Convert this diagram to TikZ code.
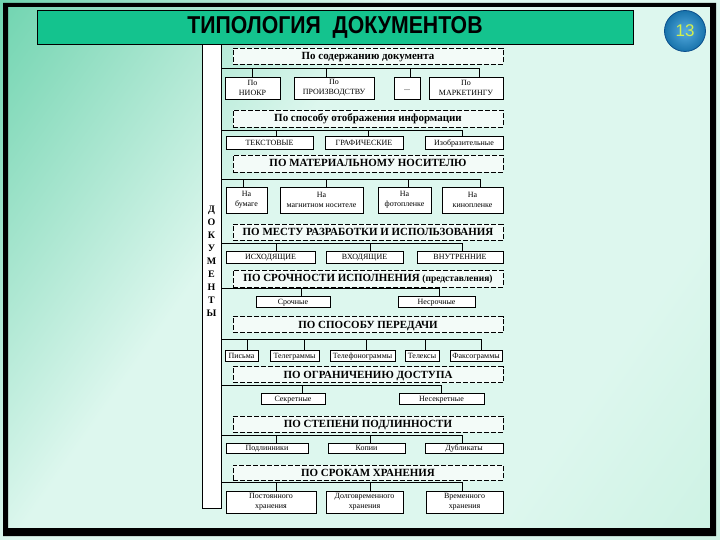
\documentclass[tikz,border=0pt]{standalone}
\usepackage{fontspec}
\setmainfont{Liberation Serif}
\setsansfont{Liberation Sans}
\newfontfamily\titlefont[FakeStretch=0.87]{Liberation Sans}
\usepackage{tikz}
\usetikzlibrary{positioning, calc}
\definecolor{jade}{HTML}{14C38E}
\definecolor{jadeedge}{HTML}{2CC28D}
\definecolor{jademid}{HTML}{8EDDC0}
\definecolor{mintpale}{HTML}{DDF7EE}
\definecolor{mintdeep}{HTML}{BCEDD9}
\definecolor{headfill}{HTML}{F3FBF8}
\definecolor{badgeblue}{HTML}{1E90D6}
\definecolor{badgedark}{HTML}{0B4F8C}
\definecolor{badgetext}{HTML}{D4F04C}
\pgfdeclarehorizontalshading{slidebg}{100bp}{color(0bp)=(jadeedge); color(22bp)=(jademid); color(40bp)=(mintpale); color(70bp)=(mintpale); color(100bp)=(mintdeep)}
\tikzset{
  titlebar/.style={draw=black, line width=0.8pt, fill=jade, font=\titlefont\bfseries\fontsize{24.5}{28}\selectfont, inner sep=0pt},
  badge/.style={circle, draw=badgedark, line width=0.8pt, inner color=badgeblue!75!white, outer color=badgeblue!80!black, text=badgetext, font=\sffamily\fontsize{17}{20}\selectfont, minimum size=41bp, inner sep=0pt},
  docbox/.style={draw=black, line width=0.8pt, fill=white, inner sep=0pt},
  docword/.style={align=center, font=\bfseries\fontsize{10}{13.1}\selectfont, inner sep=0pt},
  head/.style={draw=black, line width=0.9pt, dash pattern=on 5pt off 2pt, fill=headfill, minimum width=270bp, inner sep=0pt, text height=7.6bp, text depth=0.6bp, font=\bfseries\fontsize{11}{13}\selectfont},
  kid/.style={draw=black, line width=0.8pt, fill=white, inner sep=0pt, text height=5.6bp, text depth=0.5bp, font=\fontsize{8}{10}\selectfont},
  kidtwo/.style={draw=black, line width=0.8pt, fill=white, inner sep=0pt, align=center, font=\fontsize{8}{10.5}\selectfont},
  link/.style={draw=black, line width=0.8pt},
}

\begin{document}
\begin{tikzpicture}[x=1bp, y=-1bp]
  \useasboundingbox (0,0) rectangle (720,540);
  % slide background and frame
  \shade[shading=slidebg, shading angle=-35] (0,0) rectangle (720,540);
  \fill[black, even odd rule] (3,3) rectangle (716,536) (8,7) rectangle (710,528);

  % title and page number
  \node[titlebar, minimum width=596bp, minimum height=34bp] (title) at (335,27.5) {ТИПОЛОГИЯ\ \ ДОКУМЕНТОВ};
  \node[badge] (page) at (685,31) {13};

  % vertical "documents" column
  \node[docbox, minimum width=19bp, minimum height=464bp] (docs) at (211.5,276) {};
  \node[docword] (docsword) at (211.5,261) {Д\\О\\К\\У\\М\\Е\\Н\\Т\\Ы};

  % criteria (dashed)
  \node[head, minimum height=16bp] (h1) at (368,56) {По содержанию документа};
  \node[head, minimum height=17bp] (h2) at (368,118.5) {По способу отображения информации};
  \node[head, minimum height=17bp] (h3) at (368,163.5) {ПО МАТЕРИАЛЬНОМУ НОСИТЕЛЮ};
  \node[head, minimum height=16bp] (h4) at (368,232.5) {ПО МЕСТУ РАЗРАБОТКИ И ИСПОЛЬЗОВАНИЯ};
  \node[head, minimum height=17bp] (h5) at (368,278.5) {ПО СРОЧНОСТИ ИСПОЛНЕНИЯ {\fontsize{9.5}{11}\selectfont(представления)}};
  \node[head, minimum height=16bp] (h6) at (368,324.5) {ПО СПОСОБУ ПЕРЕДАЧИ};
  \node[head, minimum height=16bp] (h7) at (368,374.5) {ПО ОГРАНИЧЕНИЮ ДОСТУПА};
  \node[head, minimum height=16bp] (h8) at (368,424) {ПО СТЕПЕНИ ПОДЛИННОСТИ};
  \node[head, minimum height=15bp] (h9) at (368,472.5) {ПО СРОКАМ ХРАНЕНИЯ};

  % by content
  \node[kidtwo, minimum width=55bp, minimum height=22bp] (n1a) at (252.5,88) {По\\НИОКР};
  \node[kidtwo, minimum width=80bp, minimum height=22bp] (n1b) at (334,88) {По\\ПРОИЗВОДСТВУ};
  \node[kid, minimum width=26bp, minimum height=22bp] (n1c) at (407,88) {...};
  \node[kidtwo, minimum width=74bp, minimum height=22bp] (n1d) at (466,88) {По\\МАРКЕТИНГУ};
  % by way of display
  \node[kid, minimum width=87bp, minimum height=13bp] (n2a) at (269.5,142.5) {ТЕКСТОВЫЕ};
  \node[kid, minimum width=78bp, minimum height=13bp] (n2b) at (364,142.5) {ГРАФИЧЕСКИЕ};
  \node[kid, minimum width=78bp, minimum height=13bp] (n2c) at (464,142.5) {Изобразительные};
  % by carrier
  \node[kidtwo, minimum width=41bp, minimum height=26bp] (n3a) at (246.5,200) {На\\бумаге};
  \node[kidtwo, minimum width=83bp, minimum height=26bp] (n3b) at (321.5,200) {На\\магнитном носителе};
  \node[kidtwo, minimum width=53bp, minimum height=26bp] (n3c) at (404.5,200) {На\\фотопленке};
  \node[kidtwo, minimum width=61bp, minimum height=26bp] (n3d) at (472.5,200) {На\\кинопленке};
  % by place
  \node[kid, minimum width=89bp, minimum height=12bp] (n4a) at (270.5,257) {ИСХОДЯЩИЕ};
  \node[kid, minimum width=77bp, minimum height=12bp] (n4b) at (364.5,257) {ВХОДЯЩИЕ};
  \node[kid, minimum width=86bp, minimum height=12bp] (n4c) at (460,257) {ВНУТРЕННИЕ};
  % by urgency
  \node[kid, minimum width=74bp, minimum height=11bp] (n5a) at (293,301.5) {Срочные};
  \node[kid, minimum width=77bp, minimum height=11bp] (n5b) at (436.5,301.5) {Несрочные};
  % by transfer
  \node[kid, minimum width=33bp, minimum height=11bp] (n6a) at (241.5,355.5) {Письма};
  \node[kid, minimum width=49bp, minimum height=11bp] (n6b) at (294.5,355.5) {Телеграммы};
  \node[kid, minimum width=65bp, minimum height=11bp] (n6c) at (362.5,355.5) {Телефонограммы};
  \node[kid, minimum width=34bp, minimum height=11bp] (n6d) at (422,355.5) {Телексы};
  \node[kid, minimum width=52bp, minimum height=11bp] (n6e) at (476,355.5) {Факсограммы};
  % by access
  \node[kid, minimum width=64bp, minimum height=11bp] (n7a) at (293,398.5) {Секретные};
  \node[kid, minimum width=85bp, minimum height=11bp] (n7b) at (441.5,398.5) {Несекретные};
  % by authenticity
  \node[kid, minimum width=82bp, minimum height=10bp] (n8a) at (267,448) {Подлинники};
  \node[kid, minimum width=77bp, minimum height=10bp] (n8b) at (366.5,448) {Копии};
  \node[kid, minimum width=78bp, minimum height=10bp] (n8c) at (464,448) {Дубликаты};
  % by storage term
  \node[kidtwo, minimum width=90bp, minimum height=22bp] (n9a) at (271,502) {Постоянного\\хранения};
  \node[kidtwo, minimum width=77bp, minimum height=22bp] (n9b) at (364.5,502) {Долговременного\\хранения};
  \node[kidtwo, minimum width=77bp, minimum height=22bp] (n9c) at (464.5,502) {Временного\\хранения};

  % branches from the column
  \coordinate (b1) at (docs.east |- 0,68);
  \coordinate (b2) at (docs.east |- 0,130);
  \coordinate (b3) at (docs.east |- 0,179);
  \coordinate (b4) at (docs.east |- 0,243);
  \coordinate (b5) at (docs.east |- 0,288);
  \coordinate (b6) at (docs.east |- 0,339);
  \coordinate (b7) at (docs.east |- 0,385);
  \coordinate (b8) at (docs.east |- 0,435);
  \coordinate (b9) at (docs.east |- 0,482);

  \draw[link] (b1) -| (n1a.north);
  \draw[link] (b1) -| ([xshift=-8bp]n1b.north);
  \draw[link] (b1) -| ([xshift=3bp]n1c.north);
  \draw[link] (b1) -| ([xshift=13bp]n1d.north);

  \draw[link] (b2) -| ([xshift=6.5bp]n2a.north);
  \draw[link] (b2) -| ([xshift=4bp]n2b.north);
  \draw[link] (b2) -| ([xshift=-2bp]n2c.north);

  \draw[link] (b3) -| ([xshift=-3.5bp]n3a.north);
  \draw[link] (b3) -| ([xshift=4.5bp]n3b.north);
  \draw[link] (b3) -| ([xshift=3.5bp]n3c.north);
  \draw[link] (b3) -| ([xshift=7.5bp]n3d.north);

  \draw[link] (b4) -| ([xshift=5.5bp]n4a.north);
  \draw[link] (b4) -| ([xshift=5.5bp]n4b.north);
  \draw[link] (b4) -| ([xshift=2bp]n4c.north);

  \draw[link] (b5) -| ([xshift=8bp]n5a.north);
  \draw[link] (b5) -| ([xshift=2.5bp]n5b.north);

  \draw[link] (b6) -| ([xshift=6bp]n6a.north);
  \draw[link] (b6) -| ([xshift=10bp]n6b.north);
  \draw[link] (b6) -| ([xshift=3.5bp]n6c.north);
  \draw[link] (b6) -| ([xshift=3bp]n6d.north);
  \draw[link] (b6) -| ([xshift=5bp]n6e.north);

  \draw[link] (b7) -| ([xshift=9bp]n7a.north);
  \draw[link] (b7) -| (n7b.north);

  \draw[link] (b8) -| ([xshift=9bp]n8a.north);
  \draw[link] (b8) -| ([xshift=3.5bp]n8b.north);
  \draw[link] (b8) -| ([xshift=-2bp]n8c.north);

  \draw[link] (b9) -| ([xshift=5bp]n9a.north);
  \draw[link] (b9) -| ([xshift=5.5bp]n9b.north);
  \draw[link] (b9) -| ([xshift=-2.5bp]n9c.north);
\end{tikzpicture}
\end{document}
